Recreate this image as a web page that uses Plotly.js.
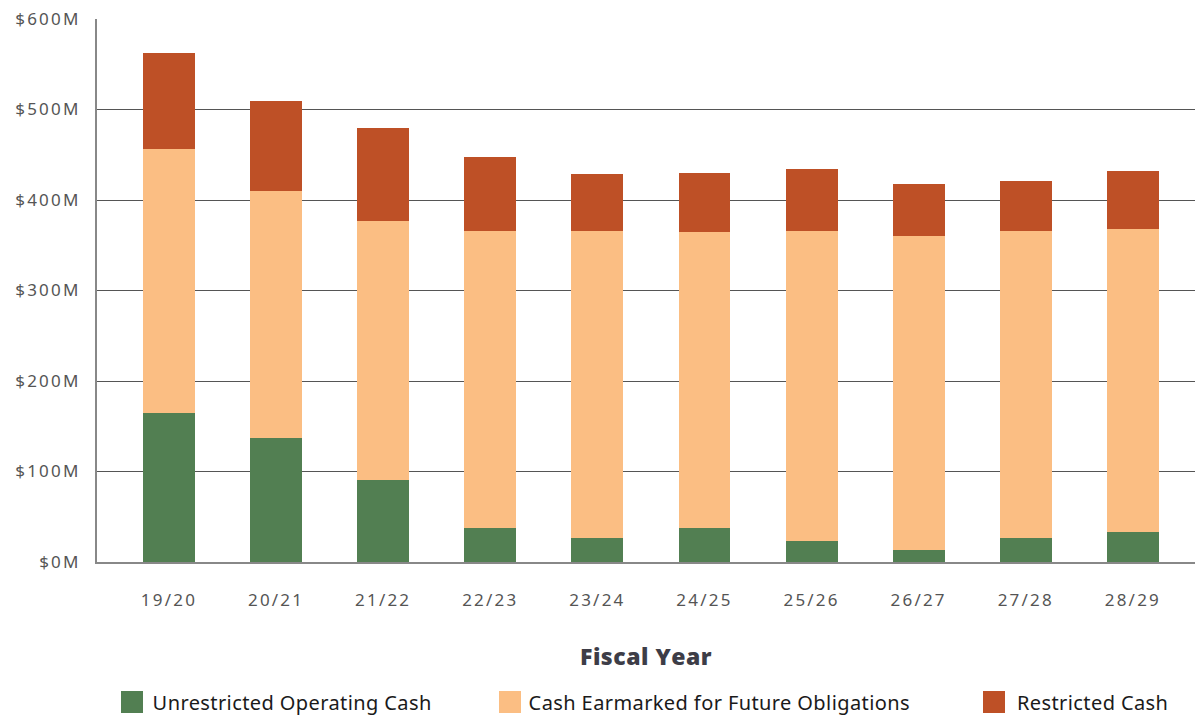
<!DOCTYPE html>
<html><head><meta charset="utf-8">
<script src="https://cdn.plot.ly/plotly-3.0.1.min.js"></script>
<style>
body{margin:0;background:#fff;}
#chart .xtick text,#chart .ytick text{letter-spacing:2.2px;}
#chart .annotation-text{letter-spacing:0.4px;}
#chart .xtitle{letter-spacing:0.5px;}
</style></head>
<body><div id="chart" style="width:1195px;height:715px;"></div>
<script>
const years = ["19/20","20/21","21/22","22/23","23/24","24/25","25/26","26/27","27/28","28/29"];
const unrestricted = [165,137,91,38,26.5,38,23,13,26.5,33];
const earmarked = [291,273,286,328,339.5,327,343,347,339,335];
const restricted = [106,99,103,82,63,65,68,58,56,64];
const seriesNames = ["Unrestricted Operating Cash","Cash Earmarked for Future Obligations","Restricted Cash"];
const seriesColors = ["#527f52","#fbbe83","#be5026"];
const yTickVals = [0,100,200,300,400,500,600];
const yTickText = ["$0M","$100M","$200M","$300M","$400M","$500M","$600M"];

const vals = [unrestricted, earmarked, restricted];
const traces = vals.map((v,i)=>({
  type:"bar", x:years, y:v, name:seriesNames[i],
  marker:{color:seriesColors[i], line:{width:0}},
  width:0.485, showlegend:false, hoverinfo:"x+y+name"
}));

// custom legend (layout elements)
const legendX = [121, 499, 983];
const shapes = [], annotations = [];
seriesNames.forEach((n,i)=>{
  shapes.push({type:"rect", xref:"paper", yref:"paper",
    x0:(legendX[i]-97)/1098, x1:(legendX[i]+22-97)/1098,
    y0:-(713-562)/543, y1:-(691-562)/543,
    fillcolor:seriesColors[i], line:{width:0}});
  annotations.push({xref:"paper", yref:"paper", x:(legendX[i]+35-97)/1098, y:-(703-562)/543,
    xanchor:"left", yanchor:"middle", showarrow:false, text:n,
    font:{family:"Noto Sans, Open Sans, sans-serif", size:20, color:"#1a1a1a"}});
});

const layout = {
  width:1195, height:715,
  margin:{l:97, r:0, t:19, b:153},
  paper_bgcolor:"#fff", plot_bgcolor:"#fff",
  barmode:"stack", bargap:0.5,
  showlegend:false,
  xaxis:{
    type:"category", range:[-0.672, 9.58],
    showline:true, linecolor:"#888", linewidth:2,
    ticks:"", ticklabelstandoff:22,
    tickfont:{family:"Noto Sans, Open Sans, sans-serif", size:17, color:"#555"},
    title:{text:"Fiscal Year", standoff:38,
      font:{family:"Open Sans, sans-serif", size:23, color:"#3d3d47", weight:800}},
    fixedrange:true
  },
  yaxis:{
    range:[0,600], tickvals:yTickVals, ticktext:yTickText,
    showgrid:true, gridcolor:"#555", gridwidth:1,
    showline:true, linecolor:"#888", linewidth:2,
    zeroline:false, ticks:"", ticklabelstandoff:11,
    tickfont:{family:"Noto Sans, Open Sans, sans-serif", size:17, color:"#555"},
    fixedrange:true
  },
  shapes:shapes, annotations:annotations
};
Plotly.newPlot("chart", traces, layout, {displayModeBar:false, staticPlot:true});
</script></body></html>
